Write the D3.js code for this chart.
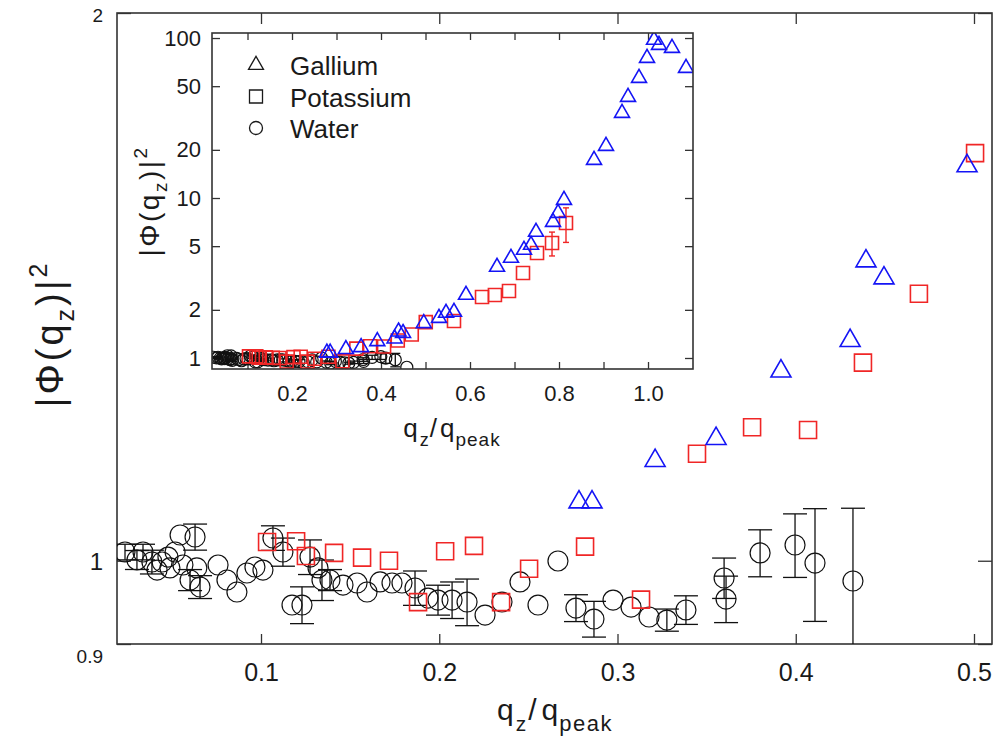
<!DOCTYPE html>
<html><head><meta charset="utf-8">
<script src="https://cdn.jsdelivr.net/npm/d3@7"></script>
<style>
body{margin:0;background:#fff}
svg{display:block}
text{font-family:"Liberation Sans",Arial,sans-serif;fill:#1a1a1a}
</style>
</head><body>
<svg id="c" width="1004" height="740"></svg>
<script>
// ---------- data (q_z/q_peak, |Phi(q_z)|^2) ----------
const galliumX = [0.2784,0.2857,0.3211,0.3553,0.3917,0.4305,0.4394,0.4495,0.4961,0.5303,0.5461,0.5640,0.5910,0.6607,0.6921,0.7213,0.7371,0.7483,0.7865,0.7978,0.8112,0.8787,0.9056,0.9416,0.9551,0.9798,0.9978,1.0135,1.0247,1.0539,1.0854];
const galliumY = [1.077,1.077,1.135,1.167,1.271,1.321,1.461,1.430,1.648,1.778,1.911,1.939,2.476,3.705,4.217,4.732,5.086,6.131,7.079,8.058,9.716,17.28,21.13,33.98,42.78,56.23,74.99,97.2,90.4,86.6,64.9];

const potassiumX = [0.1034,0.1197,0.1252,0.1410,0.1567,0.1718,0.1881,0.2033,0.2195,0.2347,0.2504,0.2818,0.3132,0.3446,0.3755,0.4069,0.4377,0.4691,0.5006,0.5640,0.6270,0.6560,0.6876,0.7191,0.7506,0.7843,0.8157];
const potassiumY = [1.024,1.025,1.006,1.010,1.004,1.000,0.949,1.012,1.019,0.949,0.990,1.018,0.952,1.145,1.184,1.180,1.285,1.402,1.675,1.703,2.406,2.476,2.623,3.398,4.531,5.233,6.978];
const potassiumErr = [0,0,0,0,0,0,0,0,0,0,0,0,0,0,0,0,0,0,0,0,0,0,0,0,0,0.89,1.70];

const waterX = [0.0237,0.0304,0.0338,0.0388,0.0417,0.0445,0.0478,0.0489,0.0518,0.0546,0.0562,0.0602,0.0630,0.0640,0.0658,0.0759,0.0809,0.0865,0.0921,0.0966,0.1011,0.1067,0.1123,0.1174,0.1230,0.1275,0.1320,0.1342,0.1387,0.1460,0.1539,0.1595,0.1668,0.1735,0.1791,0.1864,0.1937,0.1993,0.2072,0.2156,0.2257,0.2352,0.2453,0.2554,0.2666,0.2767,0.2868,0.2975,0.3076,0.3177,0.3277,0.3384,0.3598,0.3609,0.3800,0.3996,0.4108,0.4321,0.4580];
const waterY = [1.0111,1.0010,1.0111,0.9984,0.9883,0.9984,1.0047,0.9909,1.0111,1.0331,0.9946,0.9759,1.0305,0.9909,0.9673,0.9946,0.9759,0.9612,0.9846,0.9921,0.9883,1.0292,1.0111,0.9455,0.9455,1.0047,0.9909,0.9759,0.9759,0.9697,0.9722,0.9612,0.9735,0.9722,0.9722,0.9661,0.9539,0.9515,0.9515,0.9491,0.9336,0.9491,0.9735,0.9455,0.9997,0.9419,0.9289,0.9515,0.9431,0.9313,0.9277,0.9396,0.9784,0.9527,1.0099,1.0201,0.9971,0.9747,0.8750];
const waterErr = [0.010,0.012,0.010,0.015,0,0,0,0,0,0,0,0.013,0.017,0,0.014,0,0,0,0,0,0,0.016,0.018,0,0.022,0.022,0,0.025,0.013,0,0,0,0,0,0,0.021,0,0.018,0.022,0.028,0,0,0,0,0,0.016,0.021,0,0,0,0.013,0.017,0.025,0.028,0.030,0.041,0.071,0.094,0];

const mainXTicks = [0.1,0.2,0.3,0.4,0.5];
const mainYTicks = [0.9,1,2];
const insetXTicks = [0.1,0.2,0.3,0.4,0.5,0.6,0.7,0.8,0.9,1.0];
const insetXLabels = [0.2,0.4,0.6,0.8,1.0];
const insetYTicks = [1,2,5,10,20,50,100];
const legendNames = ["Gallium","Potassium","Water"];

// ---------- setup ----------
const svg = d3.select("#c");
svg.append("rect").attr("width",1004).attr("height",740).attr("fill","#fff");

const BLUE="#1414f5", RED="#f02626", INK="#1a1a1a", FRAME="#333";
const gallium = galliumX.map((v,i)=>({x:v,y:galliumY[i]}));
const potassium = potassiumX.map((v,i)=>({x:v,y:potassiumY[i],e:potassiumErr[i]}));
const water = waterX.map((v,i)=>({x:v,y:waterY[i],e:waterErr[i]}));

const M = {l:117,t:13,r:992,b:644};
const x = d3.scaleLinear().domain([0.01921,0.5101]).range([M.l,M.r]);
const y = d3.scaleLog().domain([0.9,2]).range([M.b,M.t]);

const I = {l:212,t:33,r:693,b:369};
const xi = d3.scaleLinear().domain([0.02022,1.1011]).range([I.l,I.r]);
const yi = d3.scaleLog().domain([0.8535,107.5]).range([I.b,I.t]);

const defs = svg.append("defs");
defs.append("clipPath").attr("id","cm").append("rect").attr("x",M.l).attr("y",M.t).attr("width",M.r-M.l).attr("height",M.b-M.t);
defs.append("clipPath").attr("id","ci").append("rect").attr("x",I.l).attr("y",I.t).attr("width",I.r-I.l).attr("height",I.b-I.t);

function styleAxis(g){ g.select(".domain").remove(); g.selectAll(".tick line").attr("stroke",FRAME).attr("stroke-width",1.3); g.selectAll("text").attr("fill",INK); }

// ---------- main axes ----------
svg.append("g").attr("transform",`translate(0,${M.b})`)
  .call(d3.axisBottom(x).tickValues(mainXTicks).tickSizeInner(-10).tickSizeOuter(0).tickPadding(19).tickFormat(d3.format(".1f")))
  .call(styleAxis).call(g=>g.selectAll("text").attr("font-size",25).attr("font-family",null));
svg.append("g").attr("transform",`translate(0,${M.t})`)
  .call(d3.axisTop(x).tickValues(mainXTicks).tickSizeInner(-11).tickSizeOuter(0).tickFormat(""))
  .call(styleAxis);
svg.append("g").attr("transform",`translate(${M.l},0)`)
  .call(d3.axisLeft(y).tickValues(mainYTicks).tickSizeInner(-14).tickSizeOuter(0).tickPadding(14).tickFormat(d=>d===1?"1":(d===2?"2":"0.9")))
  .call(styleAxis)
  .call(g=>g.selectAll("text").attr("font-family",null).attr("font-size",d=>d===1?24:19)
     .attr("dy",d=>d===0.9?"0.95em":(d===2?"0.45em":"0.35em")));
svg.append("g").attr("transform",`translate(${M.r},0)`)
  .call(d3.axisRight(y).tickValues(mainYTicks).tickSizeInner(-14).tickSizeOuter(0).tickFormat(""))
  .call(styleAxis);

svg.append("rect").attr("x",M.l).attr("y",M.t).attr("width",M.r-M.l).attr("height",M.b-M.t)
  .attr("fill","none").attr("stroke",FRAME).attr("stroke-width",1.6);

// ---------- marks helper ----------
function drawSeries(g, sx, sy, sz, capHalf){
  const eb = g.append("g").attr("stroke","#111").attr("stroke-width",1.3).attr("fill","none");
  water.filter(d=>d.e>0).forEach(d=>{
    const cx=sx(d.x), y1=sy(d.y+d.e), y0=sy(Math.max(d.y-d.e,0.01));
    eb.append("line").attr("x1",cx).attr("x2",cx).attr("y1",y1).attr("y2",y0);
    eb.append("line").attr("x1",cx-capHalf).attr("x2",cx+capHalf).attr("y1",y1).attr("y2",y1);
    eb.append("line").attr("x1",cx-capHalf).attr("x2",cx+capHalf).attr("y1",y0).attr("y2",y0);
  });
  g.append("g").selectAll("path").data(water).join("path")
    .attr("transform",d=>`translate(${sx(d.x)},${sy(d.y)})`)
    .attr("d",d3.symbol(d3.symbolCircle,sz.circle))
    .attr("fill","none").attr("stroke","#111").attr("stroke-width",1.2);
  const pb = g.append("g").attr("stroke",RED).attr("stroke-width",1.4);
  potassium.filter(d=>d.e>0).forEach(d=>{
    const cx=sx(d.x), y1=sy(d.y+d.e), y0=sy(d.y-d.e);
    pb.append("line").attr("x1",cx).attr("x2",cx).attr("y1",y1).attr("y2",y0);
    pb.append("line").attr("x1",cx-capHalf*0.6).attr("x2",cx+capHalf*0.6).attr("y1",y1).attr("y2",y1);
    pb.append("line").attr("x1",cx-capHalf*0.6).attr("x2",cx+capHalf*0.6).attr("y1",y0).attr("y2",y0);
  });
  g.append("g").selectAll("path").data(potassium).join("path")
    .attr("transform",d=>`translate(${sx(d.x)},${sy(d.y)})`)
    .attr("d",d3.symbol(d3.symbolSquare,sz.square))
    .attr("fill","none").attr("stroke",RED).attr("stroke-width",1.6);
  g.append("g").selectAll("path").data(gallium).join("path")
    .attr("transform",d=>`translate(${sx(d.x)},${sy(d.y)})`)
    .attr("d",d3.symbol(d3.symbolTriangle,sz.tri))
    .attr("fill","none").attr("stroke",BLUE).attr("stroke-width",1.6);
}

drawSeries(svg.append("g").attr("clip-path","url(#cm)"), x, y, {circle:314,square:289,tri:173}, 12);

// ---------- main titles ----------
const xt = svg.append("text").attr("x",555).attr("y",720).attr("text-anchor","middle").attr("font-size",30);
xt.append("tspan").text("q");
xt.append("tspan").attr("font-size",21).attr("dy",11).attr("dx",2).text("z");
xt.append("tspan").attr("dy",-11).attr("dx",2).text("/");
xt.append("tspan").attr("dx",5).text("q");
xt.append("tspan").attr("font-size",22).attr("dy",11).attr("dx",1).attr("letter-spacing",1.5).text("peak");

function phiTitle(tx,ty,size,sub,ls){
  const t = svg.append("text").attr("transform",`translate(${tx},${ty}) rotate(-90)`)
    .attr("text-anchor","middle").attr("font-size",size).attr("letter-spacing",ls);
  t.append("tspan").text("|Φ(q");
  t.append("tspan").attr("font-size",sub).attr("dy",size*0.3).text("z");
  t.append("tspan").attr("dy",-size*0.3).text(")|");
  t.append("tspan").attr("font-size",sub).attr("dy",-size*0.42).text("2");
}
phiTitle(63,334,38,25,3);

// ---------- inset ----------
svg.append("rect").attr("x",I.l).attr("y",I.t).attr("width",I.r-I.l).attr("height",I.b-I.t).attr("fill","#fff");
svg.append("g").attr("transform",`translate(0,${I.b})`)
  .call(d3.axisBottom(xi).tickValues(insetXTicks).tickSizeInner(-7).tickSizeOuter(0).tickPadding(16)
     .tickFormat(d=>insetXLabels.some(v=>Math.abs(v-d)<1e-9)?d3.format(".1f")(d):""))
  .call(styleAxis).call(g=>g.selectAll("text").attr("font-size",22).attr("font-family",null));
svg.append("g").attr("transform",`translate(0,${I.t})`)
  .call(d3.axisTop(xi).tickValues(insetXTicks).tickSizeInner(-7).tickSizeOuter(0).tickFormat(""))
  .call(styleAxis);
svg.append("g").attr("transform",`translate(${I.l},0)`)
  .call(d3.axisLeft(yi).tickValues(insetYTicks).tickSizeInner(-8).tickSizeOuter(0).tickPadding(11).tickFormat(d3.format("d")))
  .call(styleAxis).call(g=>g.selectAll("text").attr("font-size",22).attr("font-family",null));
svg.append("g").attr("transform",`translate(${I.r},0)`)
  .call(d3.axisRight(yi).tickValues(insetYTicks).tickSizeInner(-8).tickSizeOuter(0).tickFormat(""))
  .call(styleAxis);

drawSeries(svg.append("g").attr("clip-path","url(#ci)"), xi, yi, {circle:113,square:169,tri:97}, 5);

svg.append("rect").attr("x",I.l).attr("y",I.t).attr("width",I.r-I.l).attr("height",I.b-I.t)
  .attr("fill","none").attr("stroke",FRAME).attr("stroke-width",1.6);

// inset titles
const xit = svg.append("text").attr("x",452).attr("y",437).attr("text-anchor","middle").attr("font-size",26);
xit.append("tspan").text("q");
xit.append("tspan").attr("font-size",18).attr("dy",9).attr("dx",2).text("z");
xit.append("tspan").attr("dy",-9).attr("dx",1).text("/");
xit.append("tspan").attr("dx",3).text("q");
xit.append("tspan").attr("font-size",19).attr("dy",9).attr("dx",1).attr("letter-spacing",1).text("peak");
phiTitle(159,201,28,19,2.5);

// legend
const legSym = [d3.symbolTriangle,d3.symbolSquare,d3.symbolCircle];
const legSize = [97,169,133];
const lg = svg.append("g");
legendNames.forEach((n,i)=>{
  const cy = 65 + i*31.5;
  lg.append("path").attr("transform",`translate(256,${cy})`).attr("d",d3.symbol(legSym[i],legSize[i]))
    .attr("fill","none").attr("stroke",INK).attr("stroke-width",1.3);
  lg.append("text").attr("x",290).attr("y",cy+10).attr("font-size",26).text(n);
});
</script>
</body></html>
